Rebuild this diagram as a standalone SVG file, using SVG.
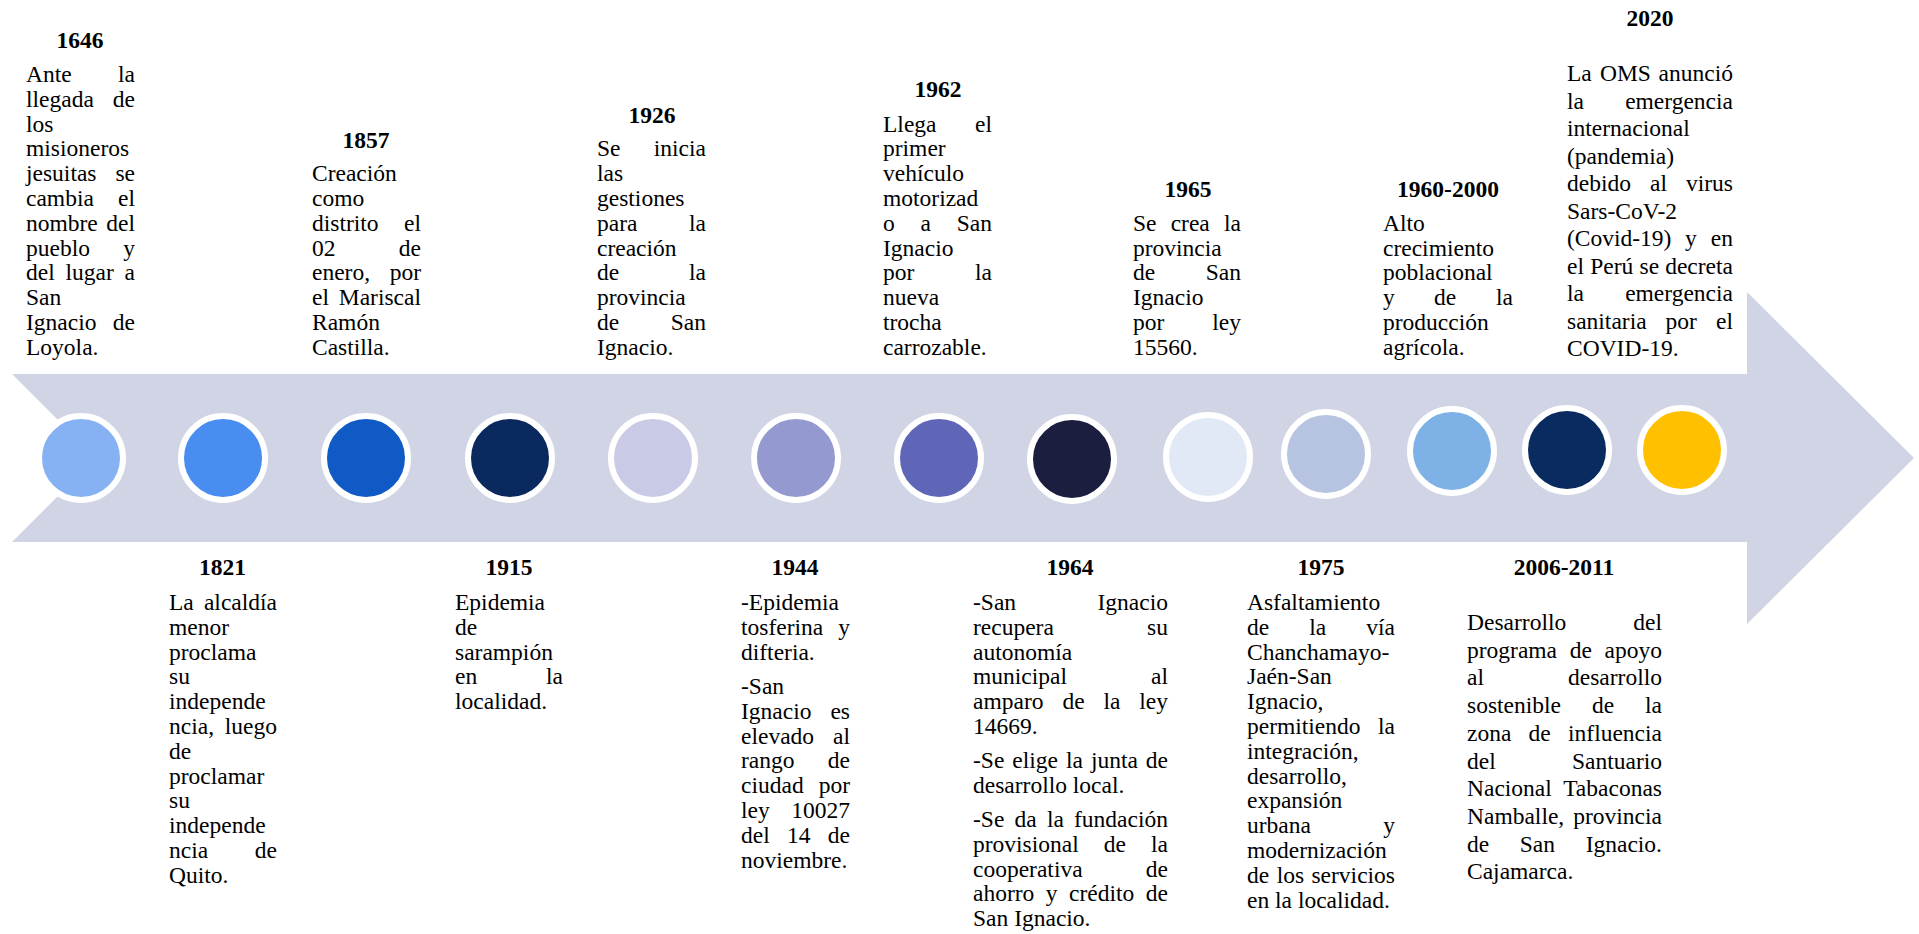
<svg xmlns="http://www.w3.org/2000/svg" width="1919" height="934" viewBox="0 0 1919 934">
<style>
text{font-family:"Liberation Serif","Times New Roman",serif;font-size:23.5px;fill:#000}
.y{font-weight:bold;text-anchor:middle}
.e{text-anchor:end}
.dot{stroke:#fff;stroke-width:6}
</style>
<rect width="1919" height="934" fill="#fff"/>
<g id="arrow">
<path d="M12,374 L1747,374 L1747,292 L1914,458 L1747,624 L1747,542 L12,542 L96,458 Z" fill="#D0D4E5"/>
</g>
<g id="connectors"></g>

<g id="ev-1646">
<circle class="dot" cx="81" cy="458" r="42" fill="#86B2F4"/>
<text class="y" x="80" y="48">1646</text>
<text x="26" y="82">Ante</text><text class="e" x="135" y="82">la</text>
<text x="26" y="106.8">llegada</text><text class="e" x="135" y="106.8">de</text>
<text x="26" y="131.6">los</text>
<text x="26" y="156.4">misioneros</text>
<text x="26" y="181.2">jesuitas</text><text class="e" x="135" y="181.2">se</text>
<text x="26" y="206">cambia</text><text class="e" x="135" y="206">el</text>
<text x="26" y="230.8">nombre</text><text class="e" x="135" y="230.8">del</text>
<text x="26" y="255.6">pueblo</text><text class="e" x="135" y="255.6">y</text>
<text x="26" y="280.4">del</text><text x="65.5" y="280.4">lugar</text><text class="e" x="135" y="280.4">a</text>
<text x="26" y="305.2">San</text>
<text x="26" y="330">Ignacio</text><text class="e" x="135" y="330">de</text>
<text x="26" y="354.8">Loyola.</text>
</g>

<g id="ev-1821">
<circle class="dot" cx="223" cy="458" r="42" fill="#4A8DF0"/>
<text class="y" x="222.5" y="575">1821</text>
<text x="169" y="610">La</text><text class="e" x="277" y="610">alcaldía</text>
<text x="169" y="634.8">menor</text>
<text x="169" y="659.6">proclama</text>
<text x="169" y="684.4">su</text>
<text x="169" y="709.2">independe</text>
<text x="169" y="734">ncia,</text><text class="e" x="277" y="734">luego</text>
<text x="169" y="758.8">de</text>
<text x="169" y="783.6">proclamar</text>
<text x="169" y="808.4">su</text>
<text x="169" y="833.2">independe</text>
<text x="169" y="858">ncia</text><text class="e" x="277" y="858">de</text>
<text x="169" y="882.8">Quito.</text>
</g>

<g id="ev-1857">
<circle class="dot" cx="366" cy="458" r="42" fill="#105AC5"/>
<text class="y" x="366" y="148">1857</text>
<text x="312" y="181.2">Creación</text>
<text x="312" y="206">como</text>
<text x="312" y="230.8">distrito</text><text class="e" x="421" y="230.8">el</text>
<text x="312" y="255.6">02</text><text class="e" x="421" y="255.6">de</text>
<text x="312" y="280.4">enero,</text><text class="e" x="421" y="280.4">por</text>
<text x="312" y="305.2">el</text><text class="e" x="421" y="305.2">Mariscal</text>
<text x="312" y="330">Ramón</text>
<text x="312" y="354.8">Castilla.</text>
</g>

<g id="ev-1915">
<circle class="dot" cx="510" cy="458" r="42" fill="#0A2A5F"/>
<text class="y" x="509" y="575">1915</text>
<text x="455" y="610">Epidemia</text>
<text x="455" y="634.8">de</text>
<text x="455" y="659.6">sarampión</text>
<text x="455" y="684.4">en</text><text class="e" x="563" y="684.4">la</text>
<text x="455" y="709.2">localidad.</text>
</g>

<g id="ev-1926">
<circle class="dot" cx="653" cy="458" r="42" fill="#C9CBE6"/>
<text class="y" x="652" y="123">1926</text>
<text x="597" y="156.4">Se</text><text class="e" x="706" y="156.4">inicia</text>
<text x="597" y="181.2">las</text>
<text x="597" y="206">gestiones</text>
<text x="597" y="230.8">para</text><text class="e" x="706" y="230.8">la</text>
<text x="597" y="255.6">creación</text>
<text x="597" y="280.4">de</text><text class="e" x="706" y="280.4">la</text>
<text x="597" y="305.2">provincia</text>
<text x="597" y="330">de</text><text class="e" x="706" y="330">San</text>
<text x="597" y="354.8">Ignacio.</text>
</g>

<g id="ev-1944">
<circle class="dot" cx="796" cy="458" r="42" fill="#9499D0"/>
<text class="y" x="795" y="575">1944</text>
<text x="741" y="610">-Epidemia</text>
<text x="741" y="634.8">tosferina</text><text class="e" x="850" y="634.8">y</text>
<text x="741" y="659.6">difteria.</text>
<text x="741" y="694">-San</text>
<text x="741" y="718.8">Ignacio</text><text class="e" x="850" y="718.8">es</text>
<text x="741" y="743.6">elevado</text><text class="e" x="850" y="743.6">al</text>
<text x="741" y="768.4">rango</text><text class="e" x="850" y="768.4">de</text>
<text x="741" y="793.2">ciudad</text><text class="e" x="850" y="793.2">por</text>
<text x="741" y="818">ley</text><text class="e" x="850" y="818">10027</text>
<text x="741" y="842.8">del</text><text x="787" y="842.8">14</text><text class="e" x="850" y="842.8">de</text>
<text x="741" y="867.6">noviembre.</text>
</g>

<g id="ev-1962">
<circle class="dot" cx="939" cy="458" r="42" fill="#5F66B7"/>
<text class="y" x="938" y="97">1962</text>
<text x="883" y="131.6">Llega</text><text class="e" x="992" y="131.6">el</text>
<text x="883" y="156.4">primer</text>
<text x="883" y="181.2">vehículo</text>
<text x="883" y="206">motorizad</text>
<text x="883" y="230.8">o</text><text x="920.5" y="230.8">a</text><text class="e" x="992" y="230.8">San</text>
<text x="883" y="255.6">Ignacio</text>
<text x="883" y="280.4">por</text><text class="e" x="992" y="280.4">la</text>
<text x="883" y="305.2">nueva</text>
<text x="883" y="330">trocha</text>
<text x="883" y="354.8">carrozable.</text>
</g>

<g id="ev-1964">
<circle class="dot" cx="1072" cy="459" r="42" fill="#1C1E3F"/>
<text class="y" x="1070" y="575">1964</text>
<text x="973" y="610">-San</text><text class="e" x="1168" y="610">Ignacio</text>
<text x="973" y="634.8">recupera</text><text class="e" x="1168" y="634.8">su</text>
<text x="973" y="659.6">autonomía</text>
<text x="973" y="684.4">municipal</text><text class="e" x="1168" y="684.4">al</text>
<text x="973" y="709.2">amparo</text><text x="1062.4" y="709.2">de</text><text x="1103.5" y="709.2">la</text><text class="e" x="1168" y="709.2">ley</text>
<text x="973" y="734">14669.</text>
<text x="973" y="768">-Se</text><text x="1012.3" y="768">elige</text><text x="1065.9" y="768">la</text><text x="1090.9" y="768">junta</text><text class="e" x="1168" y="768">de</text>
<text x="973" y="792.8">desarrollo local.</text>
<text x="973" y="827">-Se</text><text x="1014.5" y="827">da</text><text x="1046.9" y="827">la</text><text class="e" x="1168" y="827">fundación</text>
<text x="973" y="851.8">provisional</text><text x="1103.8" y="851.8">de</text><text class="e" x="1168" y="851.8">la</text>
<text x="973" y="876.6">cooperativa</text><text class="e" x="1168" y="876.6">de</text>
<text x="973" y="901.4">ahorro</text><text x="1045.8" y="901.4">y</text><text x="1069" y="901.4">crédito</text><text class="e" x="1168" y="901.4">de</text>
<text x="973" y="926.2">San Ignacio.</text>
</g>

<g id="ev-1965">
<circle class="dot" cx="1208" cy="457" r="42" fill="#E0E9F5"/>
<text class="y" x="1188" y="197">1965</text>
<text x="1133" y="230.8">Se</text><text x="1170.7" y="230.8">crea</text><text class="e" x="1241" y="230.8">la</text>
<text x="1133" y="255.6">provincia</text>
<text x="1133" y="280.4">de</text><text class="e" x="1241" y="280.4">San</text>
<text x="1133" y="305.2">Ignacio</text>
<text x="1133" y="330">por</text><text class="e" x="1241" y="330">ley</text>
<text x="1133" y="354.8">15560.</text>
</g>

<g id="ev-1975">
<circle class="dot" cx="1326" cy="454" r="42" fill="#B6C3E1"/>
<text class="y" x="1321" y="575">1975</text>
<text x="1247" y="610">Asfaltamiento</text>
<text x="1247" y="634.8">de</text><text x="1309.2" y="634.8">la</text><text class="e" x="1395" y="634.8">vía</text>
<text x="1247" y="659.6">Chanchamayo-</text>
<text x="1247" y="684.4">Jaén-San</text>
<text x="1247" y="709.2">Ignacio,</text>
<text x="1247" y="734">permitiendo</text><text class="e" x="1395" y="734">la</text>
<text x="1247" y="758.8">integración,</text>
<text x="1247" y="783.6">desarrollo,</text>
<text x="1247" y="808.4">expansión</text>
<text x="1247" y="833.2">urbana</text><text class="e" x="1395" y="833.2">y</text>
<text x="1247" y="858">modernización</text>
<text x="1247" y="882.8">de</text><text x="1276.7" y="882.8">los</text><text class="e" x="1395" y="882.8">servicios</text>
<text x="1247" y="907.6">en la localidad.</text>
</g>

<g id="ev-1960-2000">
<circle class="dot" cx="1452" cy="451" r="42" fill="#7EB1E5"/>
<text class="y" x="1448" y="197">1960-2000</text>
<text x="1383" y="230.8">Alto</text>
<text x="1383" y="255.6">crecimiento</text>
<text x="1383" y="280.4">poblacional</text>
<text x="1383" y="305.2">y</text><text x="1434" y="305.2">de</text><text class="e" x="1513" y="305.2">la</text>
<text x="1383" y="330">producción</text>
<text x="1383" y="354.8">agrícola.</text>
</g>

<g id="ev-2006-2011">
<circle class="dot" cx="1567" cy="450" r="42" fill="#0A2B60"/>
<text class="y" x="1564" y="575">2006-2011</text>
<text x="1467" y="630">Desarrollo</text><text class="e" x="1662" y="630">del</text>
<text x="1467" y="657.7">programa</text><text x="1569.7" y="657.7">de</text><text class="e" x="1662" y="657.7">apoyo</text>
<text x="1467" y="685.4">al</text><text class="e" x="1662" y="685.4">desarrollo</text>
<text x="1467" y="713.1">sostenible</text><text x="1591.9" y="713.1">de</text><text class="e" x="1662" y="713.1">la</text>
<text x="1467" y="740.8">zona</text><text x="1528.6" y="740.8">de</text><text class="e" x="1662" y="740.8">influencia</text>
<text x="1467" y="768.5">del</text><text class="e" x="1662" y="768.5">Santuario</text>
<text x="1467" y="796.2">Nacional</text><text class="e" x="1662" y="796.2">Tabaconas</text>
<text x="1467" y="823.9">Namballe,</text><text class="e" x="1662" y="823.9">provincia</text>
<text x="1467" y="851.6">de</text><text x="1519.8" y="851.6">San</text><text class="e" x="1662" y="851.6">Ignacio.</text>
<text x="1467" y="879.3">Cajamarca.</text>
</g>

<g id="ev-2020">
<circle class="dot" cx="1682" cy="450" r="42" fill="#FFC000"/>
<text class="y" x="1650" y="26">2020</text>
<text x="1567" y="81">La</text><text x="1600" y="81">OMS</text><text class="e" x="1733" y="81">anunció</text>
<text x="1567" y="108.5">la</text><text class="e" x="1733" y="108.5">emergencia</text>
<text x="1567" y="136">internacional</text>
<text x="1567" y="163.5">(pandemia)</text>
<text x="1567" y="191">debido</text><text x="1650" y="191">al</text><text class="e" x="1733" y="191">virus</text>
<text x="1567" y="218.5">Sars-CoV-2</text>
<text x="1567" y="246">(Covid-19)</text><text x="1685" y="246">y</text><text class="e" x="1733" y="246">en</text>
<text x="1567" y="273.5">el</text><text x="1590.2" y="273.5">Perú</text><text x="1639.5" y="273.5">se</text><text class="e" x="1733" y="273.5">decreta</text>
<text x="1567" y="301">la</text><text class="e" x="1733" y="301">emergencia</text>
<text x="1567" y="328.5">sanitaria</text><text x="1665.6" y="328.5">por</text><text class="e" x="1733" y="328.5">el</text>
<text x="1567" y="356">COVID-19.</text>
</g>
</svg>
